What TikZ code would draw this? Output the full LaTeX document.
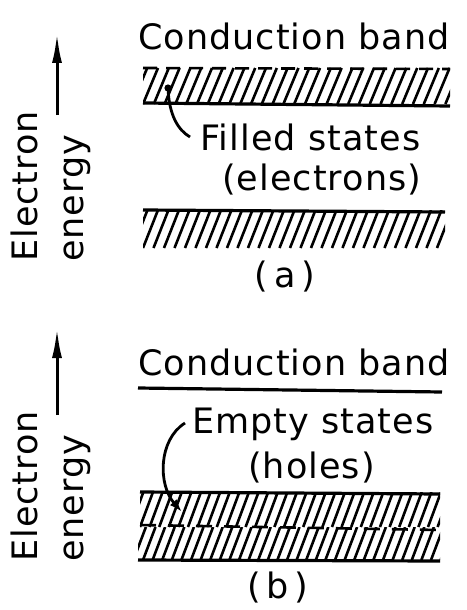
\documentclass[tikz,border=0pt]{standalone}
\usepackage{fontspec}
\setmainfont{DejaVu Sans}[LetterSpace=3]
\usetikzlibrary{arrows.meta}
\tikzset{
  lbl/.style={font=\fontsize{35}{40}\selectfont, inner sep=0pt, anchor=base west},
  vlbl/.style={lbl, rotate=90},
  edge/.style={line width=3.2pt},
  hatch/.style={line width=2.6pt},
  energyarrow/.style={line width=3pt, -{Latex[length=30pt,width=10pt]}},
  leader/.style={line width=2.8pt}
}
\begin{document}
\begin{tikzpicture}[x=1pt,y=-1pt]
\useasboundingbox (0,0) rectangle (466,610);
% ---------- (a) ----------
\coordinate (aA0) at (57,115);
\coordinate (aA1) at (57,33);
\draw[energyarrow] (aA0) -- (aA1);
\node[vlbl] (aE1) at (37,262) {Electron};
\node[vlbl] (aE2) at (83,262) {energy};
\node[lbl] (aCB) at (138,50) {Conduction band};
% upper band
\begin{scope}
\clip (143,68) rectangle (450,104);
\foreach \i in {-2,...,30} \draw[hatch] (143+\i*10.8,104) -- ++(15,-36);
\end{scope}
\draw[edge] (143,103) -- (450,106);
\draw[line width=2.6pt, dash pattern=on 14pt off 9pt] (143,68) -- (450,69);
\coordinate (aDot) at (168,88);
\fill (aDot) circle (3.6);
\node[lbl] (aFS) at (200,150) {Filled states};
\node[lbl] (aEl) at (222,190) {(electrons)};
\draw[leader] (aDot) .. controls (169,115) and (178,130) .. (190,137);
% lower band
\begin{scope}
\clip (143,210) rectangle (445,248);
\foreach \i in {-2,...,30} \draw[hatch] (143+\i*10.5,248) -- ++(15,-38);
\end{scope}
\draw[edge] (143,210) -- (445,212);
\node[lbl, anchor=base] (aLab) at (285,287) {(\,a\,)};
% ---------- (b) ----------
\coordinate (bA0) at (57,415);
\coordinate (bA1) at (57,328);
\draw[energyarrow] (bA0) -- (bA1);
\node[vlbl] (bE1) at (37,562) {Electron};
\node[vlbl] (bE2) at (83,562) {energy};
\node[lbl] (bCB) at (138,375) {Conduction band};
\coordinate (bL0) at (138,388);
\coordinate (bL1) at (442,392);
\draw[edge] (bL0) -- (bL1);
\node[lbl] (bES) at (192,433) {Empty states};
\node[lbl] (bHo) at (248,478) {(holes)};
\begin{scope}
\clip (140,492) rectangle (440,527);
\foreach \i in {-2,...,34} \draw[hatch] (140+\i*9.6,527) -- ++(13,-35);
\end{scope}
\begin{scope}
\clip (138,527) rectangle (440,560);
\foreach \i in {-2,...,34} \draw[hatch] (143+\i*9.6,560) -- ++(12.5,-33);
\end{scope}
\draw[edge] (140,492) -- (440,494);
\draw[edge] (138,560) -- (440,561);
\draw[line width=2.6pt, dash pattern=on 16pt off 12pt] (140,525) -- (440,530);
\coordinate (bTip) at (182,512);
\draw[leader, -{Latex[length=13pt,width=9pt]}] (185,423) .. controls (158,440) and (158,485) .. (bTip);
\node[lbl, anchor=base] (bLab) at (278,598) {(\,b\,)};
\end{tikzpicture}
\end{document}
